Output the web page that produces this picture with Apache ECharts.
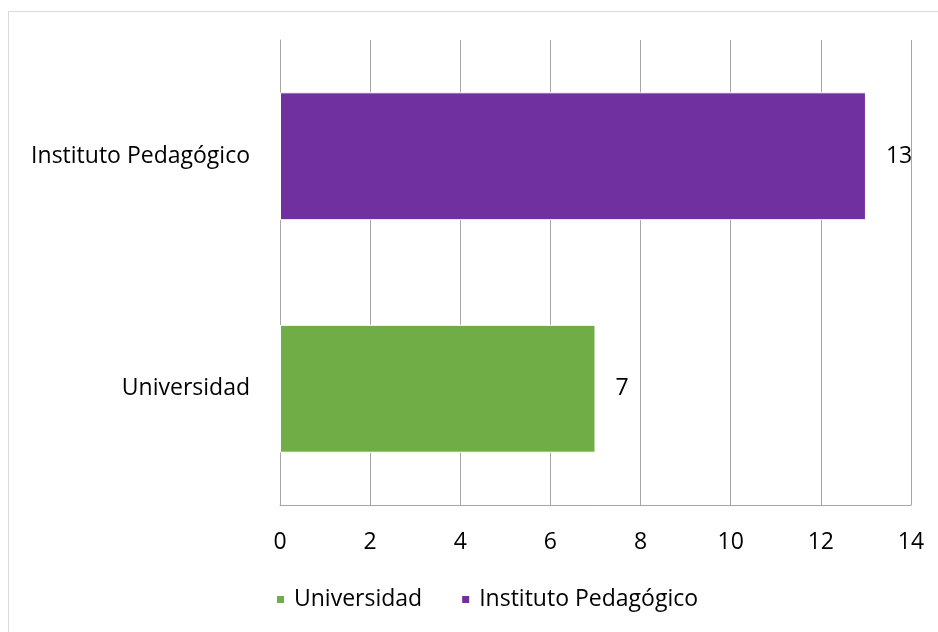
<!DOCTYPE html>
<html>
<head>
<meta charset="utf-8">
<script src="https://cdn.jsdelivr.net/npm/echarts@6/dist/echarts.min.js"></script>
<style>
  html, body { margin: 0; padding: 0; background: #fff; }
  #chart { width: 938px; height: 632px; }
  .frame { position: absolute; left: 8px; top: 11px; width: 940px; height: 640px; border: 1px solid #d9d9d9; pointer-events: none; }
</style>
</head>
<body>
<div id="chart"></div>
<div class="frame"></div>
<script>
// categories (bottom to top) and values
let categories = ["Universidad", "Instituto Pedagógico"];
let universidad = [7, "-"];
let instituto = ["-", 13];
let xTicks = [0, 2, 4, 6, 8, 10, 12, 14];

let chart = echarts.init(document.getElementById("chart"));
let font = "'Open Sans', 'Liberation Sans', sans-serif";

let option = {
  animation: false,
  textStyle: { fontFamily: font },
  grid: { left: 280, right: 27, top: 40, bottom: 127 },
  legend: {
    bottom: 16,
    left: 270,
    itemWidth: 9,
    itemHeight: 9,
    itemGap: 38,
    icon: "rect",
    textStyle: { fontFamily: font, fontSize: 23, color: "#000", padding: [0, 0, 0, 4] },
    data: ["Universidad", "Instituto Pedagógico"],
  },
  xAxis: {
    type: "value",
    min: xTicks[0],
    max: xTicks[xTicks.length - 1],
    interval: 2,
    axisLine: { show: true, lineStyle: { color: "#a6a6a6" } },
    axisTick: { show: false },
    splitLine: { show: true, lineStyle: { color: "#a6a6a6", width: 1 } },
    axisLabel: { color: "#000", fontSize: 23, margin: 26, fontFamily: font },
  },
  yAxis: {
    type: "category",
    data: categories,
    axisLine: { show: true, lineStyle: { color: "#a6a6a6" } },
    axisTick: { show: false },
    axisLabel: { color: "#000", fontSize: 23, margin: 30, fontFamily: font },
  },
  series: [
    {
      name: "Universidad",
      type: "bar",
      stack: "total",
      barWidth: "55%",
      data: universidad,
      itemStyle: { color: "#70ad47", borderColor: "#fff", borderWidth: 1 },
      label: { show: true, position: "right", distance: 20, color: "#000", fontSize: 23, fontFamily: font },
    },
    {
      name: "Instituto Pedagógico",
      type: "bar",
      stack: "total",
      barWidth: "55%",
      data: instituto,
      itemStyle: { color: "#7030a0", borderColor: "#fff", borderWidth: 1 },
      label: { show: true, position: "right", distance: 20, color: "#000", fontSize: 23, fontFamily: font },
    },
  ],
};
chart.setOption(option);
</script>
</body>
</html>
